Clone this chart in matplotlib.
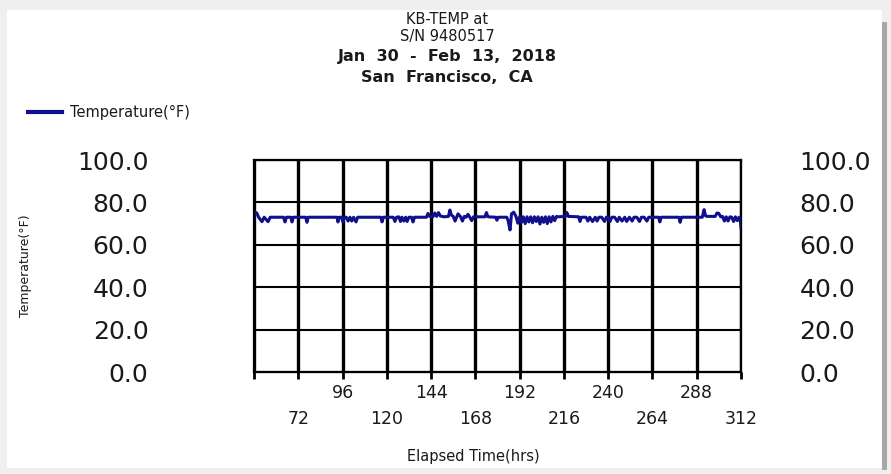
import matplotlib
matplotlib.use("Agg")
import matplotlib.pyplot as plt
from matplotlib.patches import Rectangle

plt.rcParams['font.family'] = ['DejaVu Sans']

# elapsed time (hrs) and temperature (F)
hours = [48, 48.5, 49.5, 50.5, 52.3, 53.5, 55.6, 56.8, 64, 64.8,
         65.6, 68, 68.6, 69.3, 76, 76.7, 77.4, 93, 93.5, 94.3,
         95.6, 96.2, 97, 98, 99, 100, 101, 102, 103.3, 104.2,
         116.8, 117.4, 118.2, 123.5, 124.4, 125.3, 126.5, 127.4, 128.2, 129.2,
         130.2, 131, 132, 133.4, 134.2, 135, 141.5, 142.3, 143.2, 145,
         146, 147, 148, 149, 150, 151, 153.4, 154.2, 155, 156,
         157, 158.6, 160, 161, 162, 163, 164, 165, 166, 167,
         173.2, 174, 174.8, 179, 179.7, 180.4, 185, 185.7, 186.8, 187.6,
         188.8, 190, 191, 192, 193, 194, 195, 196, 197, 198,
         199, 200, 201, 202, 203, 204, 205, 206, 207, 208,
         209, 210, 211, 212, 213, 216.8, 217.6, 218.4, 224, 224.7,
         225.5, 228, 229, 230, 231.5, 233, 234, 235, 236.5, 238,
         239, 240, 241, 242, 243.5, 245, 246, 247.5, 249, 250,
         251.5, 253, 254, 255.5, 257, 258, 259.5, 261, 262, 267.3,
         268, 268.7, 278.3, 279, 279.7, 291, 292, 292.8, 294, 298,
         299, 300, 301, 302, 303, 304, 305, 306, 307, 308,
         309, 310, 311, 311.5, 312]
temps = [73.0, 75.4, 75.0, 73.0, 70.9, 73.0, 70.9, 73.0, 73.0, 70.8,
         73.0, 73.0, 70.8, 73.0, 73.0, 70.6, 73.0, 73.0, 70.8, 73.0,
         73.0, 70.8, 73.0, 73.0, 71.2, 73.0, 71.2, 73.0, 70.8, 73.0,
         73.0, 70.8, 73.0, 73.0, 71.0, 73.0, 73.2, 71.0, 73.0, 71.2,
         73.0, 71.0, 73.0, 73.0, 70.8, 73.0, 73.0, 74.8, 73.4, 73.2,
         75.0, 73.4, 75.2, 73.6, 73.4, 73.2, 73.4, 76.4, 74.0, 73.4,
         71.2, 74.6, 73.2, 71.2, 73.4, 73.0, 74.4, 73.0, 71.4, 73.2,
         73.2, 75.2, 73.2, 73.0, 71.6, 73.0, 73.0, 71.6, 67.0, 74.6,
         75.4, 73.4, 70.2, 73.2, 70.6, 73.2, 70.0, 73.2, 70.8, 73.2,
         70.4, 73.2, 71.0, 73.2, 69.8, 73.0, 70.6, 73.2, 70.0, 73.2,
         70.8, 73.4, 71.4, 73.4, 73.2, 73.4, 75.2, 73.4, 73.2, 71.0,
         73.0, 73.0, 71.2, 73.0, 71.0, 73.0, 71.2, 73.0, 73.0, 71.0,
         73.0, 73.0, 71.0, 73.0, 73.0, 71.0, 73.0, 71.2, 73.0, 71.0,
         73.0, 71.2, 73.0, 73.0, 71.0, 73.0, 73.0, 71.2, 73.0, 73.0,
         70.8, 73.0, 73.0, 70.6, 73.0, 73.0, 76.6, 73.6, 73.4, 73.4,
         75.0, 74.8, 73.2, 73.4, 71.2, 73.2, 71.2, 73.2, 73.0, 71.0,
         73.2, 71.4, 73.0, 72.6, 68.0]

x_upper = [48, 96, 144, 192, 240, 288]
x_upper_labels = ['', '96', '144', '192', '240', '288']
x_lower = [72, 120, 168, 216, 264, 312]
x_lower_labels = ['72', '120', '168', '216', '264', '312']
y_ticks = [0, 20, 40, 60, 80, 100]
y_labels = ['0.0', '20.0', '40.0', '60.0', '80.0', '100.0']

title_lines = ['KB-TEMP at', 'S/N 9480517']
title_bold = ['Jan  30  -  Feb  13,  2018', 'San  Francisco,  CA']

W, H = 891, 474
navy = '#10108c'
ink = '#1a1a1a'

fig = plt.figure(figsize=(W / 100, H / 100), dpi=100)
fig.patch.set_facecolor('#efefef')


def fx(px):
    return px / W


def fy(py):
    return 1 - py / H


# page look: white sheet with a grey shadow on the right
fig.patches.append(Rectangle((fx(882), fy(470)), fx(5), 448 / H, transform=fig.transFigure,
                             facecolor='#a8a8a8', edgecolor='none', zorder=-11))
fig.patches.append(Rectangle((fx(7), fy(468)), fx(875), 458 / H, transform=fig.transFigure,
                             facecolor='white', edgecolor='none', zorder=-10))

ax = fig.add_axes([fx(254), fy(372), (741 - 254) / W, (372 - 160) / H])
ax.plot(hours, temps, color=navy, lw=2.2, zorder=3)
ax.set_xlim(48, 312)
ax.set_ylim(0, 100)

ax.set_xticks(x_upper)
ax.set_xticklabels(x_upper_labels)
ax.set_xticks(x_lower, minor=True)
ax.set_xticklabels(x_lower_labels, minor=True)
ax.set_yticks(y_ticks)
ax.set_yticklabels(y_labels)

ax.grid(axis='x', which='both', color='black', lw=2.4)
ax.grid(axis='y', which='major', color='black', lw=1.5)
for s in ax.spines.values():
    s.set_linewidth(1.6)

ax.tick_params(axis='x', which='both', direction='out', length=5, width=2, colors='black',
               labelcolor=ink, labelsize=12.5)
ax.tick_params(axis='x', which='major', pad=3.5)
ax.tick_params(axis='x', which='minor', pad=22)
ax.tick_params(axis='y', length=0, pad=76, labelsize=18, labelcolor=ink)

ax2 = ax.twinx()
ax2.set_ylim(0, 100)
ax2.set_yticks(y_ticks)
ax2.set_yticklabels(y_labels)
ax2.tick_params(axis='y', length=0, pad=42, labelsize=18, labelcolor=ink)

# titles
fig.text(fx(447), fy(20), title_lines[0], ha='center', va='center', fontsize=10.5, color=ink)
fig.text(fx(447), fy(37), title_lines[1], ha='center', va='center', fontsize=10.5, color=ink)
fig.text(fx(447), fy(57), title_bold[0], ha='center', va='center', fontsize=11.5,
         fontweight='bold', color=ink)
fig.text(fx(447), fy(78), title_bold[1], ha='center', va='center', fontsize=11.5,
         fontweight='bold', color=ink)

# legend
fig.lines.append(plt.Line2D([fx(28), fx(62)], [fy(112), fy(112)], transform=fig.transFigure,
                            color=navy, lw=3.0))
fig.text(fx(70), fy(112), 'Temperature(°F)', ha='left', va='center', fontsize=10.5, color=ink)

fig.text(fx(26), fy(266), 'Temperature(°F)', rotation=90, ha='center', va='center',
         fontsize=9, color=ink)
fig.text(fx(473), fy(456), 'Elapsed Time(hrs)', ha='center', va='center', fontsize=10.5, color=ink)

fig.savefig('out.png', dpi=100, facecolor=fig.get_facecolor())
